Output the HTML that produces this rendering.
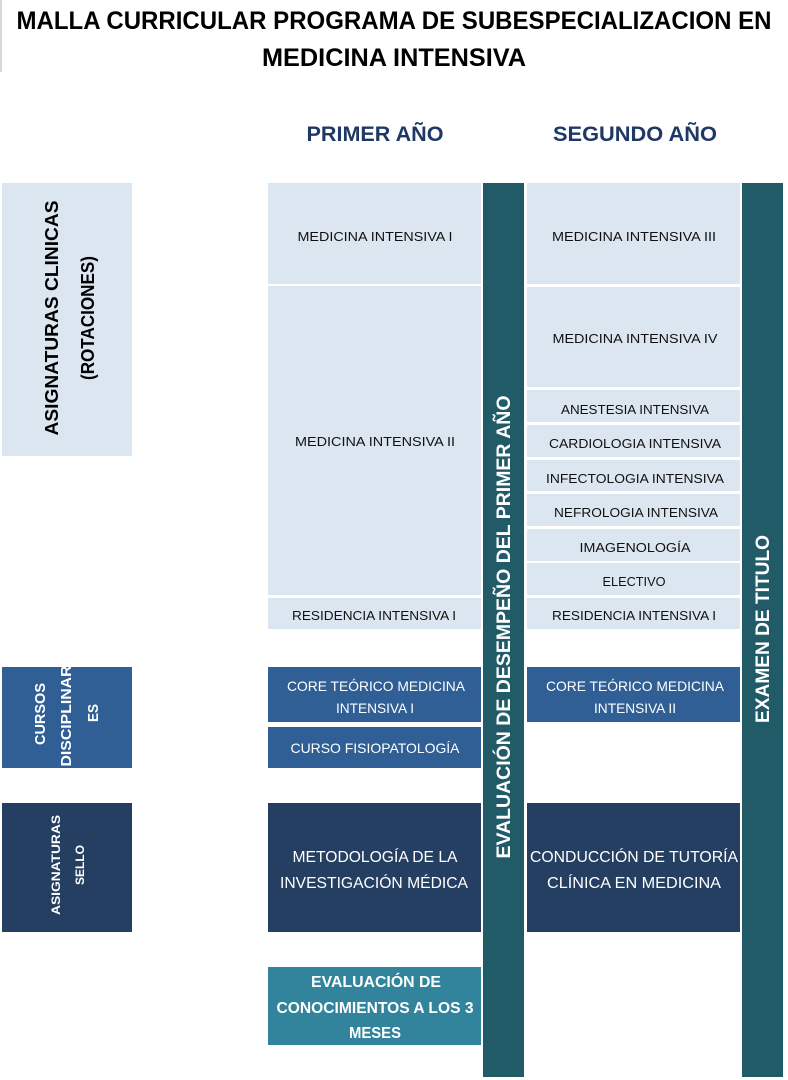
<!DOCTYPE html>
<html><head><meta charset="utf-8"><style>
html,body{margin:0;padding:0;background:#fff;width:788px;height:1080px;overflow:hidden}
svg{display:block}
text{font-family:"Liberation Sans",sans-serif}
</style></head><body>
<svg width="788" height="1080" viewBox="0 0 788 1080" xmlns="http://www.w3.org/2000/svg">
<rect x="0" y="0" width="2" height="72" fill="#d8d8d8"/>
<g font-weight="bold" fill="#000" font-size="25">
<text x="394" y="29" text-anchor="middle" textLength="755" lengthAdjust="spacingAndGlyphs">MALLA CURRICULAR PROGRAMA DE SUBESPECIALIZACION EN</text>
<text x="394" y="66" text-anchor="middle" textLength="264" lengthAdjust="spacingAndGlyphs">MEDICINA INTENSIVA</text>
</g>
<g font-weight="bold" fill="#1f3864" font-size="21">
<text x="375" y="141" text-anchor="middle" textLength="137" lengthAdjust="spacingAndGlyphs">PRIMER AÑO</text>
<text x="635" y="141" text-anchor="middle" textLength="164" lengthAdjust="spacingAndGlyphs">SEGUNDO AÑO</text>
</g>

<rect x="2" y="183" width="130" height="273" fill="#dce6f1"/>
<rect x="2" y="667" width="130" height="101" fill="#2f5f95"/>
<rect x="2" y="803" width="130" height="129" fill="#243f61"/>
<g font-weight="bold">
<text transform="translate(58,318) rotate(-90)" text-anchor="middle" font-size="18" fill="#000" textLength="235" lengthAdjust="spacingAndGlyphs">ASIGNATURAS CLINICAS</text>
<text transform="translate(94,318) rotate(-90)" text-anchor="middle" font-size="18" fill="#000" textLength="124" lengthAdjust="spacingAndGlyphs">(ROTACIONES)</text>
<text transform="translate(45,714) rotate(-90)" text-anchor="middle" font-size="15" fill="#fff" textLength="62" lengthAdjust="spacingAndGlyphs">CURSOS</text>
<text transform="translate(71,716) rotate(-90)" text-anchor="middle" font-size="15" fill="#fff" textLength="101" lengthAdjust="spacingAndGlyphs">DISCIPLINAR</text>
<text transform="translate(98,713) rotate(-90)" text-anchor="middle" font-size="15" fill="#fff" textLength="18" lengthAdjust="spacingAndGlyphs">ES</text>
<text transform="translate(60,865) rotate(-90)" text-anchor="middle" font-size="12" fill="#fff" textLength="100" lengthAdjust="spacingAndGlyphs">ASIGNATURAS</text>
<text transform="translate(84,865) rotate(-90)" text-anchor="middle" font-size="12" fill="#fff" textLength="40" lengthAdjust="spacingAndGlyphs">SELLO</text>
</g>

<g fill="#dce6f1">
<rect x="268" y="183" width="213" height="101"/>
<rect x="268" y="286" width="213" height="309"/>
<rect x="268" y="598" width="213" height="31"/>
<rect x="527" y="183" width="213" height="101"/>
<rect x="527" y="287" width="213" height="100"/>
<rect x="527" y="390" width="213" height="32"/>
<rect x="527" y="425" width="213" height="32"/>
<rect x="527" y="460" width="213" height="31"/>
<rect x="527" y="494" width="213" height="32"/>
<rect x="527" y="529" width="213" height="32"/>
<rect x="527" y="563" width="213" height="32"/>
<rect x="527" y="598" width="213" height="31"/>
</g>
<g font-size="13" fill="#111" text-anchor="middle">
<text x="375" y="241" textLength="155" lengthAdjust="spacingAndGlyphs">MEDICINA INTENSIVA I</text>
<text x="375" y="446" textLength="160" lengthAdjust="spacingAndGlyphs">MEDICINA INTENSIVA II</text>
<text x="374" y="620" textLength="164" lengthAdjust="spacingAndGlyphs">RESIDENCIA INTENSIVA I</text>
<text x="634" y="241" textLength="164" lengthAdjust="spacingAndGlyphs">MEDICINA INTENSIVA III</text>
<text x="635" y="343" textLength="165" lengthAdjust="spacingAndGlyphs">MEDICINA INTENSIVA IV</text>
<text x="635" y="414" textLength="148" lengthAdjust="spacingAndGlyphs">ANESTESIA INTENSIVA</text>
<text x="635" y="448" textLength="172" lengthAdjust="spacingAndGlyphs">CARDIOLOGIA INTENSIVA</text>
<text x="635" y="483" textLength="178" lengthAdjust="spacingAndGlyphs">INFECTOLOGIA INTENSIVA</text>
<text x="636" y="517" textLength="164" lengthAdjust="spacingAndGlyphs">NEFROLOGIA INTENSIVA</text>
<text x="635" y="552" textLength="111" lengthAdjust="spacingAndGlyphs">IMAGENOLOGÍA</text>
<text x="634" y="586" textLength="63" lengthAdjust="spacingAndGlyphs">ELECTIVO</text>
<text x="634" y="620" textLength="164" lengthAdjust="spacingAndGlyphs">RESIDENCIA INTENSIVA I</text>
</g>

<rect x="268" y="667" width="213" height="55" fill="#2f5f95"/>
<rect x="268" y="727" width="213" height="41" fill="#2f5f95"/>
<rect x="527" y="667" width="213" height="55" fill="#2f5f95"/>
<g font-size="14" fill="#fff" text-anchor="middle">
<text x="376" y="691" textLength="178" lengthAdjust="spacingAndGlyphs">CORE TEÓRICO MEDICINA</text>
<text x="375" y="713" textLength="78" lengthAdjust="spacingAndGlyphs">INTENSIVA I</text>
<text x="375" y="753" textLength="169" lengthAdjust="spacingAndGlyphs">CURSO FISIOPATOLOGÍA</text>
<text x="635" y="691" textLength="178" lengthAdjust="spacingAndGlyphs">CORE TEÓRICO MEDICINA</text>
<text x="635" y="713" textLength="82" lengthAdjust="spacingAndGlyphs">INTENSIVA II</text>
</g>

<rect x="268" y="803" width="213" height="129" fill="#243f61"/>
<rect x="527" y="803" width="213" height="129" fill="#243f61"/>
<g font-size="16" fill="#fff" text-anchor="middle">
<text x="375" y="862" textLength="165" lengthAdjust="spacingAndGlyphs">METODOLOGÍA DE LA</text>
<text x="374" y="888" textLength="188" lengthAdjust="spacingAndGlyphs">INVESTIGACIÓN MÉDICA</text>
<text x="634" y="862" textLength="208" lengthAdjust="spacingAndGlyphs">CONDUCCIÓN DE TUTORÍA</text>
<text x="634" y="888" textLength="174" lengthAdjust="spacingAndGlyphs">CLÍNICA EN MEDICINA</text>
</g>

<rect x="268" y="967" width="213" height="78" fill="#31849b"/>
<g font-size="16" font-weight="bold" fill="#fff" text-anchor="middle">
<text x="376" y="987" textLength="130" lengthAdjust="spacingAndGlyphs">EVALUACIÓN DE</text>
<text x="375" y="1013" textLength="197" lengthAdjust="spacingAndGlyphs">CONOCIMIENTOS A LOS 3</text>
<text x="375" y="1038" textLength="52" lengthAdjust="spacingAndGlyphs">MESES</text>
</g>

<rect x="483" y="183" width="41" height="894" fill="#225b68"/>
<rect x="742" y="183" width="41" height="894" fill="#225b68"/>
<g font-weight="bold" fill="#fff" font-size="19" text-anchor="middle">
<text transform="translate(510,627) rotate(-90)" textLength="463" lengthAdjust="spacingAndGlyphs">EVALUACIÓN DE DESEMPEÑO DEL PRIMER AÑO</text>
<text transform="translate(769,629) rotate(-90)" textLength="188" lengthAdjust="spacingAndGlyphs">EXAMEN DE TITULO</text>
</g>
</svg>
</body></html>
